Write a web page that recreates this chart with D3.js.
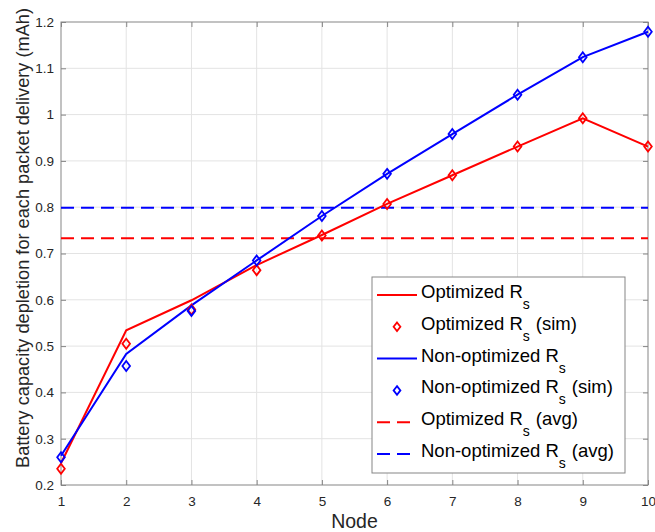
<!DOCTYPE html>
<html>
<head>
<meta charset="utf-8">
<script src="https://cdn.jsdelivr.net/npm/d3@7"></script>
<style>
  body { margin: 0; background: #fff; }
  text { font-family: "Liberation Sans", Arial, Helvetica, sans-serif; }
</style>
</head>
<body>
<div id="chart"></div>
<script>
// data
var nodes = [1, 2, 3, 4, 5, 6, 7, 8, 9, 10];
var optModel = [0.247, 0.534, 0.599, 0.675, 0.740, 0.807, 0.869, 0.931, 0.992, 0.931];
var optSim   = [0.235, 0.505, 0.579, 0.664, 0.739, 0.807, 0.869, 0.931, 0.992, 0.931];
var nonModel = [0.263, 0.483, 0.588, 0.685, 0.781, 0.872, 0.958, 1.043, 1.124, 1.179];
var nonSim   = [0.260, 0.457, 0.576, 0.685, 0.781, 0.872, 0.958, 1.043, 1.124, 1.179];
var optAvg = 0.733;
var nonAvg = 0.799;
var xTicks = [1, 2, 3, 4, 5, 6, 7, 8, 9, 10];
var yTicks = [0.2, 0.3, 0.4, 0.5, 0.6, 0.7, 0.8, 0.9, 1, 1.1, 1.2];
var legendLabels = [
  {main: "Optimized R", tail: ""},
  {main: "Optimized R", tail: "(sim)"},
  {main: "Non-optimized R", tail: ""},
  {main: "Non-optimized R", tail: "(sim)"},
  {main: "Optimized R", tail: "(avg)"},
  {main: "Non-optimized R", tail: "(avg)"}
];

var width = 655, height = 532;
var margin = {top: 22, right: 7, bottom: 47, left: 61};
var plotW = width - margin.left - margin.right,
    plotH = height - margin.top - margin.bottom;

var red = "#ff0000", blue = "#0000ff",
    axisColor = "#858585", gridColor = "#e3e3e3", labelColor = "#262626";

var svg = d3.select("#chart").append("svg")
    .attr("width", width)
    .attr("height", height);

var x = d3.scaleLinear().domain([1, 10]).range([0, plotW]);
var y = d3.scaleLinear().domain([0.2, 1.2]).range([plotH, 0]);

var g = svg.append("g")
    .attr("transform", "translate(" + margin.left + "," + margin.top + ")");

// grid
g.append("g").selectAll("line.gx")
  .data(xTicks.slice(1, -1)).enter().append("line")
    .attr("x1", function(d){ return x(d); }).attr("x2", function(d){ return x(d); })
    .attr("y1", 0).attr("y2", plotH)
    .style("stroke", gridColor).style("stroke-width", 1);
g.append("g").selectAll("line.gy")
  .data(yTicks.slice(1, -1)).enter().append("line")
    .attr("y1", function(d){ return y(d); }).attr("y2", function(d){ return y(d); })
    .attr("x1", 0).attr("x2", plotW)
    .style("stroke", gridColor).style("stroke-width", 1);

// axes (ticks inward, box on all sides)
function styleAxis(sel) {
  sel.select(".domain").remove();
  sel.selectAll(".tick line").style("stroke", axisColor);
  sel.selectAll(".tick text")
    .style("font-size", "13.5px")
    .style("fill", labelColor)
    .style("font-family", "'Liberation Sans', Arial, sans-serif");
}
var fmtY = function(d){ return d3.format("")(+d.toFixed(1)); };

g.append("g").attr("transform", "translate(0," + plotH + ")")
  .call(d3.axisBottom(x).tickValues(xTicks).tickSizeInner(-5).tickSizeOuter(0).tickPadding(11).tickFormat(d3.format("d")))
  .call(styleAxis);
g.append("g")
  .call(d3.axisTop(x).tickValues(xTicks).tickSizeInner(-5).tickSizeOuter(0).tickFormat(""))
  .call(styleAxis);
g.append("g")
  .call(d3.axisLeft(y).tickValues(yTicks).tickSizeInner(-5).tickSizeOuter(0).tickPadding(7).tickFormat(fmtY))
  .call(styleAxis);
g.append("g").attr("transform", "translate(" + plotW + ",0)")
  .call(d3.axisRight(y).tickValues(yTicks).tickSizeInner(-5).tickSizeOuter(0).tickFormat(""))
  .call(styleAxis);

g.append("rect")
  .attr("x", 0).attr("y", 0).attr("width", plotW).attr("height", plotH)
  .style("fill", "none").style("stroke", axisColor).style("stroke-width", 1);

// average lines
g.append("line")
  .attr("x1", x(1)).attr("x2", x(10)).attr("y1", y(optAvg)).attr("y2", y(optAvg))
  .style("stroke", red).style("stroke-width", 2).style("stroke-dasharray", "13,7");
g.append("line")
  .attr("x1", x(1)).attr("x2", x(10)).attr("y1", y(nonAvg)).attr("y2", y(nonAvg))
  .style("stroke", blue).style("stroke-width", 2).style("stroke-dasharray", "13,7");

// model lines
var line = d3.line()
    .x(function(d, i){ return x(nodes[i]); })
    .y(function(d){ return y(d); });

g.append("path").datum(optModel).attr("d", line)
  .style("fill", "none").style("stroke", red).style("stroke-width", 2);
g.append("path").datum(nonModel).attr("d", line)
  .style("fill", "none").style("stroke", blue).style("stroke-width", 2);

// sim diamonds
var diamond = "M0,-5L3.8,0L0,5L-3.8,0Z";
function drawSim(vals, color) {
  g.append("g").selectAll("path")
    .data(vals).enter().append("path")
      .attr("d", diamond)
      .attr("transform", function(d, i){ return "translate(" + x(nodes[i]) + "," + y(d) + ")"; })
      .style("fill", "none").style("stroke", color).style("stroke-width", 1.8);
}
drawSim(optSim, red);
drawSim(nonSim, blue);

// axis labels
svg.append("text")
  .attr("x", margin.left + plotW / 2)
  .attr("y", 528)
  .attr("text-anchor", "middle")
  .style("font-size", "19.5px")
  .style("fill", labelColor)
  .text("Node");

svg.append("text")
  .attr("transform", "translate(29,238) rotate(-90)")
  .attr("text-anchor", "middle")
  .style("font-size", "18.2px")
  .style("fill", labelColor)
  .text("Battery capacity depletion for each packet delivery (mAh)");

// legend
var lgX = 372, lgY = 277, lgW = 253, lgH = 196, rowH = 31.8, row0 = 295;
var legend = svg.append("g").attr("class", "legend");
legend.append("rect")
  .attr("x", lgX).attr("y", lgY).attr("width", lgW).attr("height", lgH)
  .style("fill", "#fff").style("stroke", axisColor).style("stroke-width", 1);

var kinds = ["line", "sim", "line", "sim", "dash", "dash"];
var colors = [red, red, blue, blue, red, blue];

legendLabels.forEach(function(lab, i) {
  var ry = row0 + i * rowH;
  if (kinds[i] == "line" || kinds[i] == "dash") {
    legend.append("line")
      .attr("x1", 377).attr("x2", 417).attr("y1", ry).attr("y2", ry)
      .style("stroke", colors[i]).style("stroke-width", 2)
      .style("stroke-dasharray", kinds[i] == "dash" ? "13,7" : null);
  } else {
    legend.append("path")
      .attr("d", "M0,-4.3L3.4,0L0,4.3L-3.4,0Z")
      .attr("transform", "translate(397," + ry + ")")
      .style("fill", "none").style("stroke", colors[i]).style("stroke-width", 1.8);
  }
  var t = legend.append("text")
    .attr("x", 421).attr("y", ry + 3)
    .style("font-size", "18.5px")
    .style("fill", "#000");
  t.append("tspan").text(lab.main);
  t.append("tspan").attr("dy", 11).style("font-size", "14px").text("s");
  if (lab.tail) t.append("tspan").attr("dy", -11).attr("dx", 6).text(lab.tail);
});
</script>
</body>
</html>
